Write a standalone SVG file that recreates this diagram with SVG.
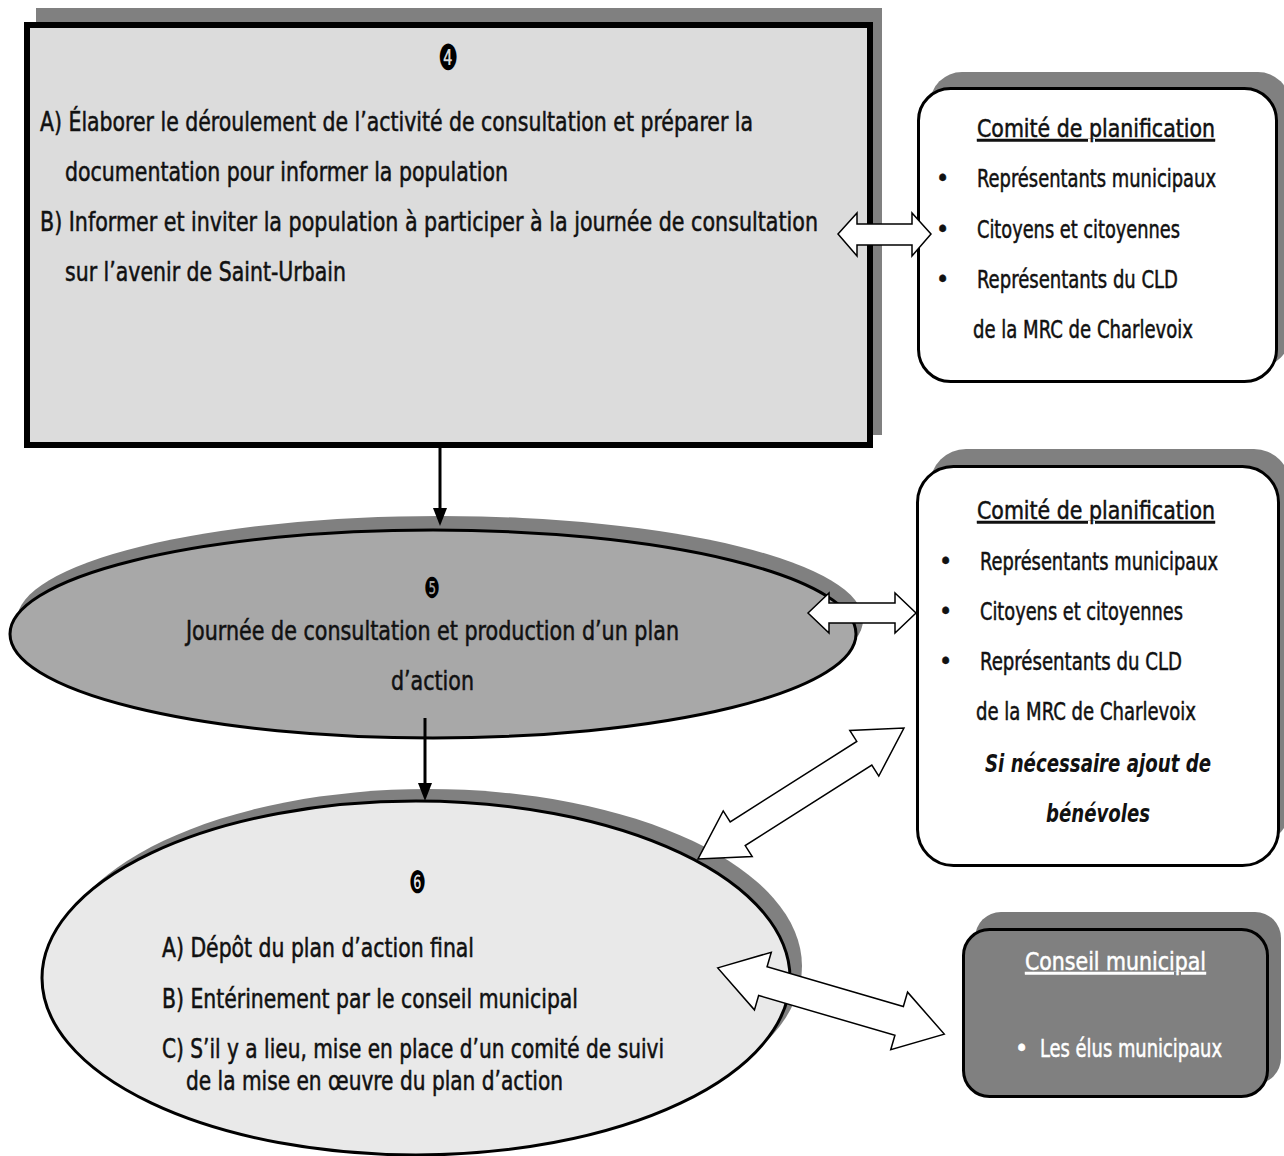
<svg xmlns="http://www.w3.org/2000/svg" width="1284" height="1156" viewBox="0 0 1284 1156">
<style>
.t{font-family:"DejaVu Sans Condensed","DejaVu Sans",sans-serif;font-size:26px;fill:#111;stroke:#111;stroke-width:0.5}
.r{font-size:25px}
.tb{font-family:"DejaVu Sans Condensed","DejaVu Sans",sans-serif;font-size:25px;fill:#111;font-weight:bold;font-style:italic}
.w{fill:#fff;stroke:#fff}
.num{font-family:"DejaVu Sans",sans-serif;fill:#000}
.sh{fill:#808080}
.blk{stroke:#000;stroke-width:3}
.dbl{fill:#fff;stroke:#000;stroke-width:1.5;stroke-linejoin:miter}
.ln{stroke:#000;stroke-width:3;fill:none}
.hd{fill:#000}
</style>
<rect width="1284" height="1156" fill="#fff"/>

<g id="node4">
<rect class="sh" x="36" y="8" width="846" height="427"/>
<rect x="27" y="25" width="843" height="420" fill="#dcdcdc" stroke="#000" stroke-width="6"/>
<text class="num" x="438" y="70" font-size="36" textLength="20" lengthAdjust="spacingAndGlyphs">❹</text>
<text class="t" x="40" y="131" textLength="713" lengthAdjust="spacingAndGlyphs">A) Élaborer le déroulement de l’activité de consultation et préparer la</text>
<text class="t" x="65" y="181" textLength="443" lengthAdjust="spacingAndGlyphs">documentation pour informer la population</text>
<text class="t" x="40" y="231" textLength="778" lengthAdjust="spacingAndGlyphs">B) Informer et inviter la population à participer à la journée de consultation</text>
<text class="t" x="65" y="281" textLength="281" lengthAdjust="spacingAndGlyphs">sur l’avenir de Saint-Urbain</text>
</g>

<g id="comite1">
<rect class="sh" x="930" y="72" width="360" height="295" rx="32"/>
<rect x="918.5" y="88.5" width="358" height="293" rx="32" fill="#fff" class="blk"/>
<text class="t r" x="977" y="137" textLength="238" lengthAdjust="spacingAndGlyphs" text-decoration="underline">Comité de planification</text>
<text class="t r" x="936" y="187">•</text>
<text class="t r" x="977" y="187" textLength="239" lengthAdjust="spacingAndGlyphs">Représentants municipaux</text>
<text class="t r" x="936" y="238">•</text>
<text class="t r" x="977" y="238" textLength="203" lengthAdjust="spacingAndGlyphs">Citoyens et citoyennes</text>
<text class="t r" x="936" y="288">•</text>
<text class="t r" x="977" y="288" textLength="201" lengthAdjust="spacingAndGlyphs">Représentants du CLD</text>
<text class="t r" x="973" y="338" textLength="220" lengthAdjust="spacingAndGlyphs">de la MRC de Charlevoix</text>
</g>

<g id="node5">
<ellipse class="sh" cx="440" cy="620" rx="423" ry="104"/>
<ellipse cx="433" cy="634" rx="423" ry="104" fill="#a8a8a8" class="blk"/>
<text class="num" x="424" y="598" font-size="29" textLength="16" lengthAdjust="spacingAndGlyphs">❺</text>
<text class="t" x="186" y="640" textLength="493" lengthAdjust="spacingAndGlyphs">Journée de consultation et production d’un plan</text>
<text class="t" x="391" y="690" textLength="83" lengthAdjust="spacingAndGlyphs">d’action</text>
</g>

<g id="comite2">
<rect class="sh" x="930" y="449" width="360" height="395" rx="36"/>
<rect x="917.5" y="466.5" width="361" height="399" rx="36" fill="#fff" class="blk"/>
<text class="t r" x="977" y="519" textLength="238" lengthAdjust="spacingAndGlyphs" text-decoration="underline">Comité de planification</text>
<text class="t r" x="939" y="570">•</text>
<text class="t r" x="980" y="570" textLength="238" lengthAdjust="spacingAndGlyphs">Représentants municipaux</text>
<text class="t r" x="939" y="620">•</text>
<text class="t r" x="980" y="620" textLength="203" lengthAdjust="spacingAndGlyphs">Citoyens et citoyennes</text>
<text class="t r" x="939" y="670">•</text>
<text class="t r" x="980" y="670" textLength="202" lengthAdjust="spacingAndGlyphs">Représentants du CLD</text>
<text class="t r" x="976" y="720" textLength="220" lengthAdjust="spacingAndGlyphs">de la MRC de Charlevoix</text>
<text class="tb" x="985" y="772" textLength="226" lengthAdjust="spacingAndGlyphs">Si nécessaire ajout de</text>
<text class="tb" x="1046" y="822" textLength="104" lengthAdjust="spacingAndGlyphs">bénévoles</text>
</g>

<g id="node6">
<ellipse class="sh" cx="428" cy="966" rx="374" ry="177"/>
<ellipse cx="416" cy="978" rx="374" ry="177" fill="#e9e9e9" class="blk"/>
<text class="num" x="409" y="893" font-size="31" textLength="17" lengthAdjust="spacingAndGlyphs">❻</text>
<text class="t" x="162" y="957" textLength="312" lengthAdjust="spacingAndGlyphs">A) Dépôt du plan d’action final</text>
<text class="t" x="162" y="1008" textLength="416" lengthAdjust="spacingAndGlyphs">B) Entérinement par le conseil municipal</text>
<text class="t" x="162" y="1058" textLength="502" lengthAdjust="spacingAndGlyphs">C) S’il y a lieu, mise en place d’un comité de suivi</text>
<text class="t" x="186" y="1090" textLength="377" lengthAdjust="spacingAndGlyphs">de la mise en œuvre du plan d’action</text>
</g>

<g id="conseil">
<rect x="975" y="912" width="306" height="172" rx="26" fill="#7a7a7a"/>
<rect x="963.5" y="929.5" width="304" height="167" rx="26" fill="#808080" class="blk"/>
<text class="t r w" x="1025" y="970" textLength="181" lengthAdjust="spacingAndGlyphs" text-decoration="underline">Conseil municipal</text>
<text class="t r w" x="1015" y="1057">•</text>
<text class="t r w" x="1040" y="1057" textLength="182" lengthAdjust="spacingAndGlyphs">Les élus municipaux</text>
</g>

<g id="connectors">
<line class="ln" x1="440" y1="448" x2="440" y2="510"/>
<path class="hd" d="M433,508 L447,508 L440,526 Z"/>
<line class="ln" x1="425" y1="718" x2="425" y2="785"/>
<path class="hd" d="M418,783 L432,783 L425,801 Z"/>
<polygon class="dbl" points="838,234 857,213 857,224 912,224 912,213 931,234 912,256 912,245 857,245 857,256"/>
<polygon class="dbl" points="808,613 829,593 829,603 895,603 895,593 916,613 895,633 895,623 829,623 829,633"/>
<polygon class="dbl" transform="translate(801,793.5) rotate(-32.45)" points="-122,0 -75,-27 -75,-14 75,-14 75,-27 122,0 75,27 75,14 -75,14 -75,27"/>
<polygon class="dbl" transform="translate(831,1001) rotate(16.3)" points="-118,0 -71,-30 -71,-15 71,-15 71,-30 118,0 71,30 71,15 -71,15 -71,30"/>
</g>
</svg>
